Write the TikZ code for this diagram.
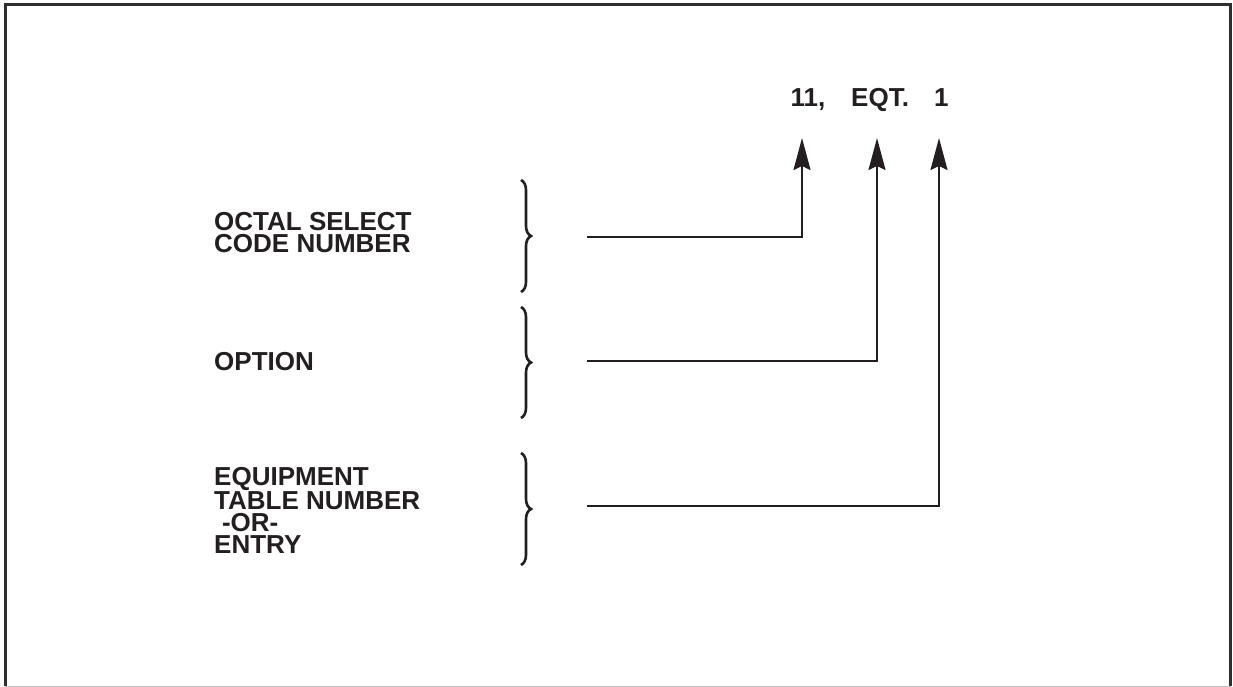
\documentclass[tikz,border=0pt]{standalone}
\usepackage{fontspec}
\setmainfont{Liberation Sans}
\usetikzlibrary{arrows.meta,decorations.pathreplacing}
\definecolor{ink}{HTML}{231F20}
\definecolor{frame}{HTML}{2E2E2E}
\begin{document}
\begin{tikzpicture}[x=1pt,y=-1pt,
  lbl/.style={font=\fontsize{26}{22}\selectfont\bfseries, inner sep=0pt, align=left, text=ink},
  top/.style={font=\fontsize{26}{26}\selectfont\bfseries, inner sep=0pt, text=ink},
  conn/.style={line width=2pt, draw=ink},
  arr/.style={conn, -{Stealth[length=32pt,width=17pt,inset=4pt]}},
  brc/.style={line width=2.6pt, draw=ink, decorate, decoration={brace, amplitude=10pt}}]
\useasboundingbox (0,0) rectangle (1233,687);
% frame
\draw[line width=3pt, draw=frame] (5,686) -- (5,4.5) -- (1230.5,4.5) -- (1230.5,686);
\draw[line width=1pt, draw=black!25] (5,686.2) -- (1230.5,686.2);
% top labels
\node[top, anchor=base west] (n11) at (790.5,107) {11,};
\node[top, anchor=base west] (neqt) at (851,107) {EQT.};
\node[top, anchor=base west] (n1) at (934,107) {1};
% left labels
\node[lbl, anchor=north west] (octal) at (214,212) {OCTAL SELECT\\CODE NUMBER};
\node[lbl, anchor=north west] (option) at (214,352) {OPTION};
\node[lbl, anchor=north west] (equip) at (214,467) {EQUIPMENT\\TABLE NUMBER\\\hspace{0.3em}-OR-\\ENTRY};
% braces
\draw[brc] (521,180) -- (521,292);
\draw[brc] (521,307) -- (521,418);
\draw[brc] (521,453) -- (521,565);
% connector ends
\coordinate (s1) at (587,237);
\coordinate (s2) at (587,361);
\coordinate (s3) at (587,506);
\coordinate (t1) at (802,138);
\coordinate (t2) at (877,138);
\coordinate (t3) at (939,138);
\draw[arr] (s1) -| (t1);
\draw[arr] (s2) -| (t2);
\draw[arr] (s3) -| (t3);
\end{tikzpicture}
\end{document}
